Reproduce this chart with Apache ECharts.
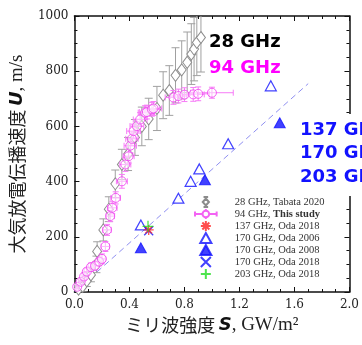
<!DOCTYPE html>
<html>
<head>
<meta charset="utf-8">
<script src="https://cdn.jsdelivr.net/npm/echarts@6/dist/echarts.min.js"></script>
<style>
html, body { margin: 0; padding: 0; background: #fff; }
#chart { width: 362px; height: 345px; }
</style>
</head>
<body>
<div id="chart"></div>
<script>
// 28 GHz, Tabata 2020: intensity S [GW/m2], velocity U [m/s], U error
const s28  = [0.03, 0.06, 0.09, 0.12, 0.16, 0.165, 0.21, 0.25, 0.297, 0.345, 0.39, 0.44, 0.49, 0.54, 0.60, 0.645, 0.69, 0.735, 0.78, 0.82, 0.85, 0.87, 0.89, 0.92];
const u28  = [10, 20, 40, 62, 100, 147, 225, 300, 392, 462, 500, 560, 600, 627, 665, 713, 730, 785, 805, 832, 862, 880, 904, 922];
const du28 = [15, 20, 20, 25, 30, 35, 40, 45, 50, 55, 60, 65, 70, 75, 80, 85, 90, 100, 105, 110, 110, 115, 120, 125];

// 94 GHz, this study: S, U and their errors
const s94  = [0.02, 0.045, 0.07, 0.09, 0.12, 0.15, 0.18, 0.20, 0.225, 0.237, 0.26, 0.275, 0.30, 0.345, 0.37, 0.394, 0.406, 0.418, 0.43, 0.454, 0.478, 0.514, 0.527, 0.563, 0.575, 0.72, 0.756, 0.80, 0.864, 0.90, 1.0];
const u94  = [19, 37, 56, 74, 90, 95, 110, 120, 165, 225, 275, 305, 341, 401, 462, 492, 530, 555, 583, 601, 625, 650, 652, 662, 665, 705, 710, 715, 716, 718, 722];
const ds94 = [0.01, 0.015, 0.015, 0.02, 0.02, 0.025, 0.025, 0.025, 0.03, 0.03, 0.03, 0.035, 0.035, 0.04, 0.04, 0.04, 0.045, 0.045, 0.05, 0.05, 0.05, 0.05, 0.055, 0.055, 0.06, 0.06, 0.06, 0.07, 0.08, 0.08, 0.155];
const du94 = [8, 10, 12, 12, 15, 15, 15, 18, 18, 20, 20, 22, 22, 25, 25, 25, 25, 25, 25, 25, 25, 25, 25, 25, 25, 25, 25, 25, 25, 25, 20];

// Oda et al. measurements
const s137oda2018 = [0.54],  u137oda2018 = [225];
const s170oda2006 = [0.483, 0.756, 0.845, 0.908, 1.118, 1.428];
const u170oda2006 = [243, 340, 401, 446, 537, 747];
const s170oda2008 = [0.483, 0.949, 1.493];
const u170oda2008 = [160, 407, 613];
const s170oda2018 = [0.54],  u170oda2018 = [222];
const s203oda2018 = [0.535], u203oda2018 = [238];

// straight guide line through the origin
const sGuide = [0, 1.7];
const uGuide = [0, 755];

// axis ranges and tick steps
const xRange = [0, 2.0], xStep = 0.4;
const yRange = [0, 1000], yStep = 200;

const zip = (a, b) => a.map((v, i) => [v, b[i]]);

const GREY = '#8c8c8c', GREY_BAR = '#a0a0a0';
const PINK = '#f03cf0', PINK_BAR = '#f77cf7';
const BLUE = '#1212ff';

function errorBars(color, cap) {
  return function (params, api) {
    const x = api.value(0), y = api.value(1);
    const dx = api.value(2), dy = api.value(3);
    const c = api.coord([x, y]);
    const t = api.coord([x, y + dy]);
    const b = api.coord([x, y - dy]);
    const st = { stroke: color, lineWidth: 1 };
    const kids = [
      { type: 'line', shape: { x1: c[0], y1: t[1], x2: c[0], y2: b[1] }, style: st },
      { type: 'line', shape: { x1: c[0] - cap, y1: t[1], x2: c[0] + cap, y2: t[1] }, style: st },
      { type: 'line', shape: { x1: c[0] - cap, y1: b[1], x2: c[0] + cap, y2: b[1] }, style: st }
    ];
    if (dx > 0) {
      const l = api.coord([x - dx, y]);
      const r = api.coord([x + dx, y]);
      kids.push(
        { type: 'line', shape: { x1: l[0], y1: c[1], x2: r[0], y2: c[1] }, style: st },
        { type: 'line', shape: { x1: l[0], y1: c[1] - cap, x2: l[0], y2: c[1] + cap }, style: st },
        { type: 'line', shape: { x1: r[0], y1: c[1] - cap, x2: r[0], y2: c[1] + cap }, style: st }
      );
    }
    return { type: 'group', children: kids };
  };
}

const ASTERISK = 'path://M0,-5L0,5M-5,0L5,0M-3.5,-3.5L3.5,3.5M-3.5,3.5L3.5,-3.5';
const CROSS = 'path://M-4,-4L4,4M-4,4L4,-4';
const PLUS = 'path://M0,-5L0,5M-5,0L5,0';
const TRIANGLE = 'path://M5,0L10,9L0,9Z';
const ICON28 = 'path://M1,0L7,0M4,0L4,2M1,13L7,13M4,11L4,13M4,2L8,6.5L4,11L0,6.5Z';
const ICON94 = 'path://M0,3L0,9M0,6L9,6M17,6L26,6M26,3L26,9M13,0L13,2M13,10L13,12M9,6A4,4,0,1,1,17,6A4,4,0,1,1,9,6Z';

const NAME28 = '28 GHz, Tabata 2020';
const NAME94 = '94 GHz, This study';
const NAME137 = '137 GHz, Oda 2018';
const NAME170a = '170 GHz, Oda 2006';
const NAME170b = '170 GHz, Oda 2008';
const NAME170c = '170 GHz, Oda 2018';
const NAME203 = '203 GHz, Oda 2018';

const serif = '"Liberation Serif", "DejaVu Serif", serif';
const tickFont = '"DejaVu Serif", serif';

function frameAxis(extra) {
  return Object.assign({
    type: 'value',
    axisLine: { show: true, onZero: false, lineStyle: { color: '#111', width: 1.5 } },
    axisTick: { show: true, inside: true, length: 5, lineStyle: { color: '#111', width: 1 } },
    minorTick: { show: true, splitNumber: 4, length: 3, lineStyle: { color: '#111', width: 1 } },
    splitLine: { show: false },
    minorSplitLine: { show: false }
  }, extra);
}

const titleRich = {
  j: { fontFamily: '"Noto Sans CJK JP"', fontSize: 18, color: '#222' },
  s: { fontFamily: '"DejaVu Sans"', fontWeight: 'bold', fontStyle: 'italic', fontSize: 18, color: '#111' },
  r: { fontFamily: serif, fontSize: 19, color: '#222' }
};

const chart = echarts.init(document.getElementById('chart'), null, { renderer: 'canvas' });

chart.setOption({
  animation: false,
  backgroundColor: '#fff',
  grid: { left: 74, right: 12, top: 16, bottom: 53 },
  xAxis: [
    frameAxis({
      min: xRange[0], max: xRange[1], interval: xStep, position: 'bottom',
      axisLabel: { color: '#222', fontFamily: tickFont, fontSize: 12, margin: 7,
        formatter: v => v.toFixed(1) },
      name: '{j|ミリ波強度} {s|S}{r|, GW/m²}',
      nameLocation: 'middle', nameGap: 22,
      nameTextStyle: { rich: titleRich }
    }),
    frameAxis({ min: xRange[0], max: xRange[1], interval: xStep, position: 'top', axisLabel: { show: false } })
  ],
  yAxis: [
    frameAxis({
      min: yRange[0], max: yRange[1], interval: yStep, position: 'left',
      axisLabel: { color: '#222', fontFamily: tickFont, fontSize: 12, margin: 6,
        formatter: v => String(v) },
      name: '{j|大気放電伝播速度} {s|U}{r|, m/s}',
      nameLocation: 'middle', nameRotate: 90, nameGap: 45,
      nameTextStyle: { rich: titleRich }
    }),
    frameAxis({ min: yRange[0], max: yRange[1], interval: yStep, position: 'right', axisLabel: { show: false } })
  ],
  legend: {
    orient: 'vertical', left: 194, top: 196, padding: 0,
    itemWidth: 48, itemHeight: 10, itemGap: 0,
    textStyle: { fontFamily: serif, fontSize: 10.5, lineHeight: 10, color: '#333',
      rich: { b: { fontFamily: serif, fontSize: 10.5, lineHeight: 10, fontWeight: 'bold', color: '#333' } } },
    formatter: name => name === NAME94 ? '94 GHz, {b|This study}' : name,
    selectedMode: false,
    data: [
      { name: NAME28, icon: ICON28 },
      { name: NAME94, icon: ICON94 },
      { name: NAME137, icon: ASTERISK },
      { name: NAME170a, icon: TRIANGLE },
      { name: NAME170b, icon: TRIANGLE },
      { name: NAME170c, icon: CROSS },
      { name: NAME203, icon: PLUS }
    ]
  },
  graphic: [
    { type: 'text', x: 209, y: 42, z: 20,
      style: { text: '28 GHz', fill: '#000', font: 'bold 18px "DejaVu Sans"', verticalAlign: 'middle', textVerticalAlign: 'middle' } },
    { type: 'text', x: 209, y: 68, z: 20,
      style: { text: '94 GHz', fill: '#ff00ff', font: 'bold 18px "DejaVu Sans"', verticalAlign: 'middle', textVerticalAlign: 'middle' } },
    { type: 'rect', z: 20, shape: { x: 296, y: 114, width: 70, height: 82 }, style: { fill: '#fff' } },
    { type: 'text', x: 300, y: 130, z: 21,
      style: { text: '137 GHz', fill: BLUE, font: 'bold 18px "DejaVu Sans"', verticalAlign: 'middle', textVerticalAlign: 'middle' } },
    { type: 'text', x: 300, y: 153.5, z: 21,
      style: { text: '170 GHz', fill: BLUE, font: 'bold 18px "DejaVu Sans"', verticalAlign: 'middle', textVerticalAlign: 'middle' } },
    { type: 'text', x: 300, y: 177, z: 21,
      style: { text: '203 GHz', fill: BLUE, font: 'bold 18px "DejaVu Sans"', verticalAlign: 'middle', textVerticalAlign: 'middle' } }
  ],
  series: [
    {
      type: 'line', name: 'guide', data: zip(sGuide, uGuide), symbol: 'none',
      lineStyle: { color: '#8f8ff0', width: 1, type: [6, 4] }, z: 1, silent: true
    },
    {
      type: 'custom', name: 'err28', data: s28.map((s, i) => [s, u28[i], 0, du28[i]]),
      renderItem: errorBars(GREY_BAR, 4), clip: true, z: 2, silent: true
    },
    {
      type: 'scatter', name: NAME28, data: zip(s28, u28), symbol: 'diamond', symbolSize: [9, 12],
      itemStyle: { color: '#fff', borderColor: GREY, borderWidth: 1, opacity: 1 }, z: 3
    },
    {
      type: 'custom', name: 'err94', data: s94.map((s, i) => [s, u94[i], ds94[i], du94[i]]),
      renderItem: errorBars(PINK_BAR, 3), clip: true, z: 4, silent: true
    },
    {
      type: 'scatter', name: NAME94, data: zip(s94, u94), symbol: 'circle', symbolSize: 9,
      itemStyle: { color: 'rgba(255,255,255,0.6)', borderColor: PINK, borderWidth: 1 }, z: 5
    },
    {
      type: 'scatter', name: NAME170a, data: zip(s170oda2006, u170oda2006), symbol: 'triangle', symbolSize: [11, 10],
      itemStyle: { color: '#fff', borderColor: BLUE, borderWidth: 1.2 }, z: 6
    },
    {
      type: 'scatter', name: NAME170b, data: zip(s170oda2008, u170oda2008), symbol: 'triangle', symbolSize: [11, 10],
      itemStyle: { color: BLUE, borderColor: BLUE, borderWidth: 1 }, z: 6
    },
    {
      type: 'scatter', name: NAME170c, data: zip(s170oda2018, u170oda2018), symbol: CROSS, symbolSize: 9,
      itemStyle: { color: BLUE, borderColor: BLUE, borderWidth: 1.3 }, z: 7
    },
    {
      type: 'scatter', name: NAME137, data: zip(s137oda2018, u137oda2018), symbol: ASTERISK, symbolSize: 10,
      itemStyle: { color: '#ff2020', borderColor: '#ff2020', borderWidth: 1.3 }, z: 8
    },
    {
      type: 'scatter', name: NAME203, data: zip(s203oda2018, u203oda2018), symbol: PLUS, symbolSize: 11,
      itemStyle: { color: '#22dd22', borderColor: '#22dd22', borderWidth: 1.3 }, z: 9
    }
  ]
});
</script>
</body>
</html>
